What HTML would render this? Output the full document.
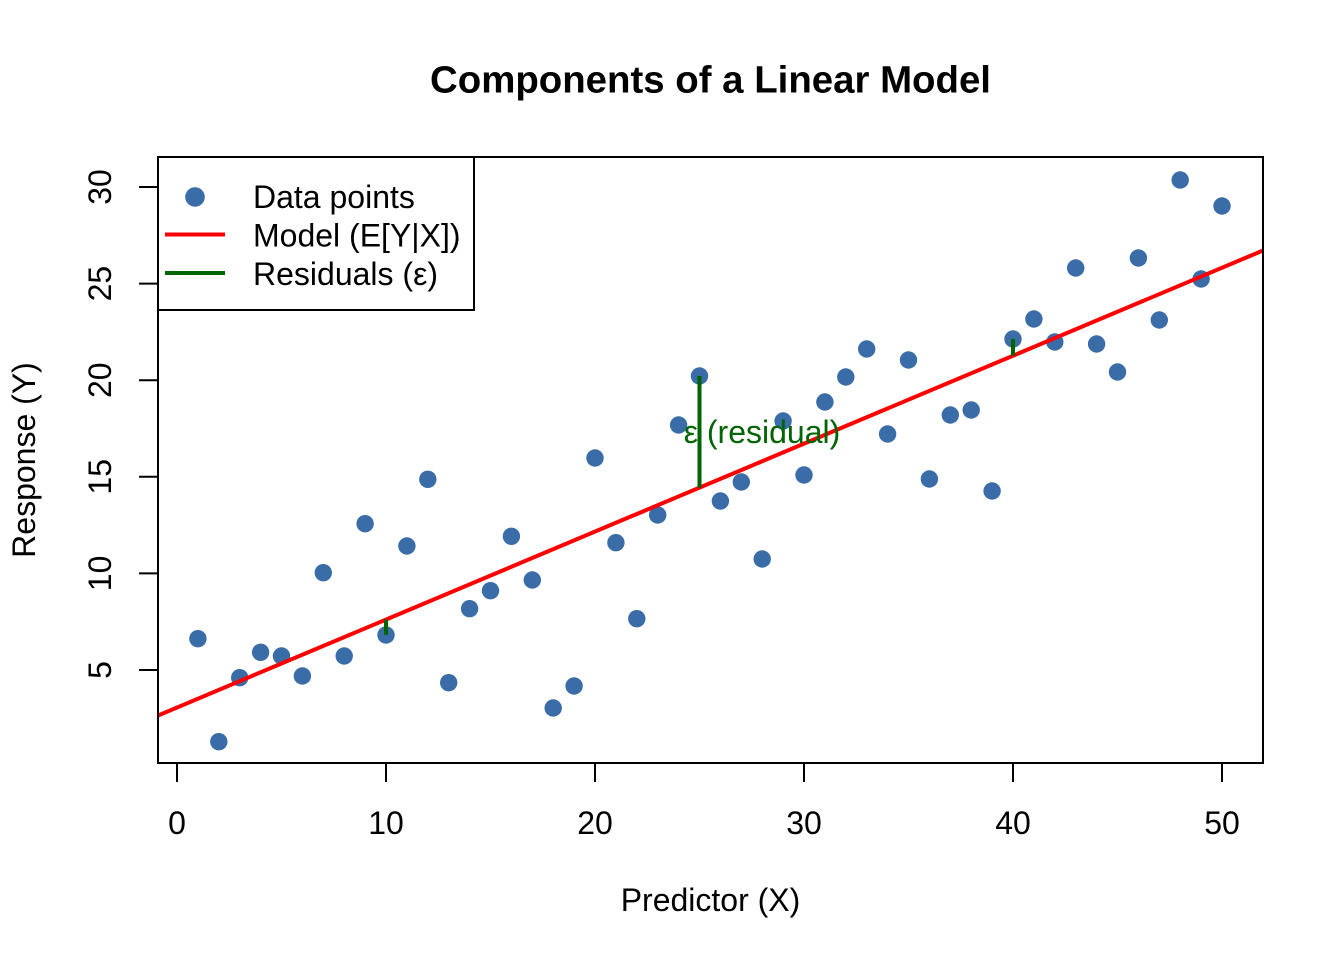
<!DOCTYPE html>
<html>
<head>
<meta charset="utf-8">
<style>
html,body{margin:0;padding:0;background:#fff;}
svg{display:block;}
text{font-family:"Liberation Sans",Arial,sans-serif;}
</style>
</head>
<body>
<svg width="1344" height="960" viewBox="0 0 1344 960" xmlns="http://www.w3.org/2000/svg">
<rect x="0" y="0" width="1344" height="960" fill="#fff"/>
<text x="710.5" y="92.5" text-anchor="middle" font-size="38.4" font-weight="bold" fill="#000">Components of a Linear Model</text>
<defs><clipPath id="pc"><rect x="158" y="157" width="1105" height="606"/></clipPath></defs>
<g fill="#3A6DA8">
<circle cx="197.9" cy="638.7" r="8.7"/>
<circle cx="218.8" cy="741.7" r="8.7"/>
<circle cx="239.7" cy="677.7" r="8.7"/>
<circle cx="260.6" cy="652.3" r="8.7"/>
<circle cx="281.5" cy="656" r="8.7"/>
<circle cx="302.4" cy="676" r="8.7"/>
<circle cx="323.3" cy="572.7" r="8.7"/>
<circle cx="344.2" cy="656" r="8.7"/>
<circle cx="365.1" cy="523.7" r="8.7"/>
<circle cx="386" cy="635" r="8.7"/>
<circle cx="406.9" cy="546" r="8.7"/>
<circle cx="427.8" cy="479.3" r="8.7"/>
<circle cx="448.7" cy="682.7" r="8.7"/>
<circle cx="469.6" cy="608.7" r="8.7"/>
<circle cx="490.5" cy="590.7" r="8.7"/>
<circle cx="511.4" cy="536.3" r="8.7"/>
<circle cx="532.3" cy="580" r="8.7"/>
<circle cx="553.2" cy="708" r="8.7"/>
<circle cx="574.1" cy="686" r="8.7"/>
<circle cx="595" cy="458" r="8.7"/>
<circle cx="615.9" cy="542.7" r="8.7"/>
<circle cx="636.8" cy="618.7" r="8.7"/>
<circle cx="657.7" cy="515" r="8.7"/>
<circle cx="678.6" cy="425" r="8.7"/>
<circle cx="699.5" cy="376" r="8.7"/>
<circle cx="720.4" cy="501" r="8.7"/>
<circle cx="741.3" cy="482" r="8.7"/>
<circle cx="762.2" cy="559" r="8.7"/>
<circle cx="783.1" cy="421" r="8.7"/>
<circle cx="804" cy="475" r="8.7"/>
<circle cx="824.9" cy="402" r="8.7"/>
<circle cx="845.8" cy="377" r="8.7"/>
<circle cx="866.7" cy="349" r="8.7"/>
<circle cx="887.6" cy="434" r="8.7"/>
<circle cx="908.5" cy="360" r="8.7"/>
<circle cx="929.4" cy="479" r="8.7"/>
<circle cx="950.3" cy="415" r="8.7"/>
<circle cx="971.2" cy="410" r="8.7"/>
<circle cx="992.1" cy="491" r="8.7"/>
<circle cx="1013" cy="339" r="8.7"/>
<circle cx="1033.9" cy="319" r="8.7"/>
<circle cx="1054.8" cy="342" r="8.7"/>
<circle cx="1075.7" cy="268" r="8.7"/>
<circle cx="1096.6" cy="344" r="8.7"/>
<circle cx="1117.5" cy="372" r="8.7"/>
<circle cx="1138.4" cy="258" r="8.7"/>
<circle cx="1159.3" cy="320" r="8.7"/>
<circle cx="1180.2" cy="180" r="8.7"/>
<circle cx="1201.1" cy="279" r="8.7"/>
<circle cx="1222" cy="206" r="8.7"/>
</g>
<line x1="158" y1="715.5" x2="1263" y2="250.5" stroke="#FF0000" stroke-width="4" clip-path="url(#pc)"/>
<g stroke="#006400" stroke-width="4">
<line x1="386" y1="635" x2="386" y2="619.6"/>
<line x1="699.5" y1="376" x2="699.5" y2="487.6"/>
<line x1="1013" y1="339" x2="1013" y2="355.7"/>
</g>
<text x="762" y="443" text-anchor="middle" font-size="32" fill="#006400">ε (residual)</text>
<rect x="158" y="157" width="1105" height="606" fill="none" stroke="#000" stroke-width="2"/>
<g stroke="#000" stroke-width="2">
<line x1="177" y1="763" x2="1222" y2="763"/>
<line x1="177" y1="763" x2="177" y2="782"/>
<line x1="386" y1="763" x2="386" y2="782"/>
<line x1="595" y1="763" x2="595" y2="782"/>
<line x1="804" y1="763" x2="804" y2="782"/>
<line x1="1013" y1="763" x2="1013" y2="782"/>
<line x1="1222" y1="763" x2="1222" y2="782"/>
</g>
<g font-size="32" fill="#000" text-anchor="middle">
<text x="177" y="834">0</text>
<text x="386" y="834">10</text>
<text x="595" y="834">20</text>
<text x="804" y="834">30</text>
<text x="1013" y="834">40</text>
<text x="1222" y="834">50</text>
</g>
<g stroke="#000" stroke-width="2">
<line x1="158" y1="670" x2="158" y2="187"/>
<line x1="158" y1="670" x2="139" y2="670"/>
<line x1="158" y1="573.4" x2="139" y2="573.4"/>
<line x1="158" y1="476.8" x2="139" y2="476.8"/>
<line x1="158" y1="380.2" x2="139" y2="380.2"/>
<line x1="158" y1="283.6" x2="139" y2="283.6"/>
<line x1="158" y1="187" x2="139" y2="187"/>
</g>
<g font-size="32" fill="#000" text-anchor="middle">
<text transform="translate(111,670) rotate(-90)">5</text>
<text transform="translate(111,573.4) rotate(-90)">10</text>
<text transform="translate(111,476.8) rotate(-90)">15</text>
<text transform="translate(111,380.2) rotate(-90)">20</text>
<text transform="translate(111,283.6) rotate(-90)">25</text>
<text transform="translate(111,187) rotate(-90)">30</text>
</g>
<text x="710.5" y="911" text-anchor="middle" font-size="32" fill="#000">Predictor (X)</text>
<text transform="translate(35,460) rotate(-90)" text-anchor="middle" font-size="32" fill="#000">Response (Y)</text>
<rect x="158" y="157" width="316" height="153" fill="#fff" stroke="#000" stroke-width="2"/>
<circle cx="195" cy="197" r="9.8" fill="#3A6DA8"/>
<line x1="165" y1="234.5" x2="225" y2="234.5" stroke="#FF0000" stroke-width="4"/>
<line x1="165" y1="273" x2="225" y2="273" stroke="#006400" stroke-width="4"/>
<g font-size="32" fill="#000">
<text x="253" y="208">Data points</text>
<text x="253" y="246.5">Model (E[Y|X])</text>
<text x="253" y="285">Residuals (ε)</text>
</g>
</svg>
</body>
</html>
